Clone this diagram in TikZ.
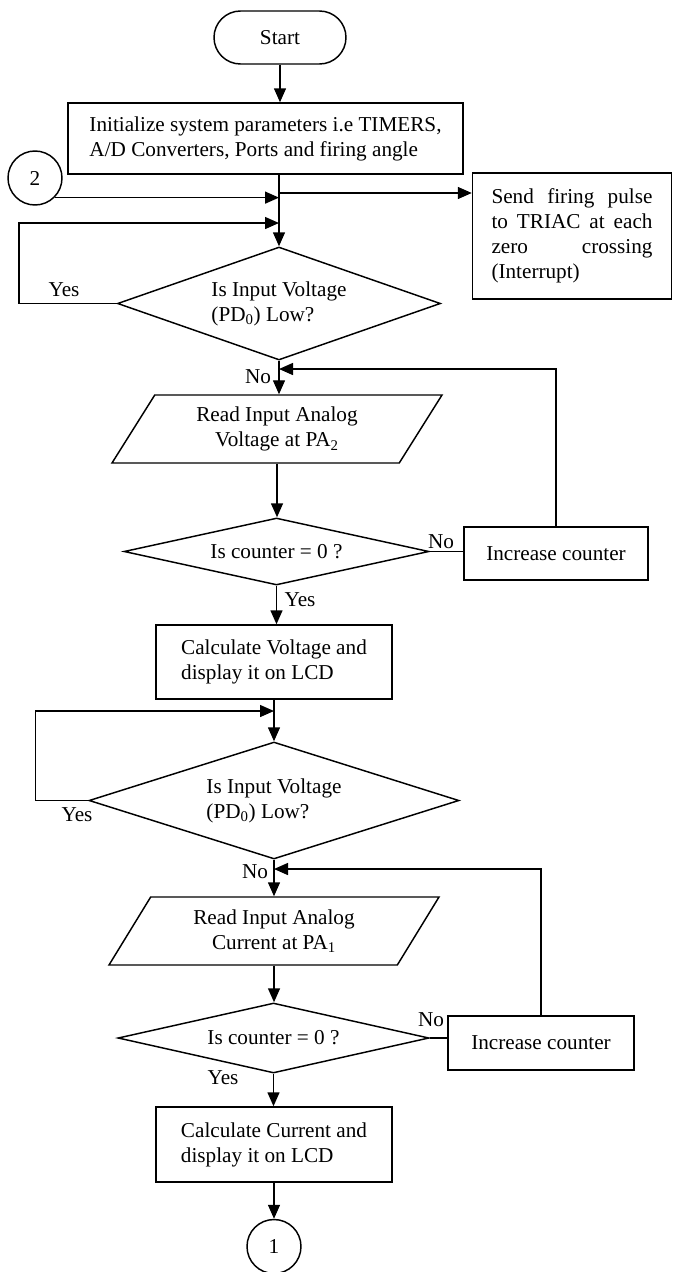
\documentclass[tikz,border=0pt]{standalone}
\usepackage{fontspec}
\setmainfont{Liberation Serif}
\usetikzlibrary{shapes,arrows.meta,positioning,calc}

\begin{document}
\begin{tikzpicture}[x=0.75pt,y=-0.75pt,line width=1.1pt,
    font=\fontsize{15.9}{18.75}\selectfont,
    every node/.style={inner sep=0pt},
    term/.style={draw, rounded rectangle, minimum width=99pt, minimum height=39.75pt},
    proc/.style={draw, rectangle, align=left},
    decide/.style={draw, diamond, aspect=3.5, align=left},
    io/.style={draw, trapezium, trapezium left angle=46, trapezium right angle=134,
      trapezium stretches body, minimum width=247.5pt, minimum height=51pt, align=center},
    conn/.style={draw, circle, minimum size=40.5pt},
    arr/.style={-{Triangle[length=10.5pt,width=9pt]}}]
    \useasboundingbox (0,0) rectangle (672,1272);

    % upper part
    \node[term] (start) at (280,37.5) {Start};
    \node[proc, minimum width=296.25pt, minimum height=53.25pt] (init) at (265.5,138.5)
        {Initialize system parameters i.e TIMERS,\\A/D Converters, Ports and firing angle};
    \node[conn] (c2) at (35,178) {2};
    \node[draw, text width=120.75pt, inner xsep=14.25pt, minimum height=94.5pt, align=justify] (send) at (572,236)
        {Send firing pulse\linebreak to TRIAC at each\linebreak zero crossing\linebreak (Interrupt)};
    \node[decide, minimum width=242.25pt, minimum height=84.75pt] (dec1) at (279,303.5)
        {Is Input Voltage\\(PD\textsubscript{0}) Low?};
    \node[io] (read1) at (277,429) {Read Input Analog\\Voltage at PA\textsubscript{2}};
    \node[decide, minimum width=228.75pt, minimum height=50.25pt] (cnt1) at (276.5,551.5) {Is counter = 0 ?};
    \node[proc, minimum width=138pt, minimum height=39.75pt] (inc1) at (556,553.5) {Increase counter};
    \node[proc, minimum width=177pt, minimum height=55.5pt] (calc1) at (274,662)
        {Calculate Voltage and\\display it on LCD};

    % lower part
    \node[decide, minimum width=277.5pt, minimum height=87.75pt] (dec2) at (274,800.5)
        {Is Input Voltage\\(PD\textsubscript{0}) Low?};
    \node[io] (read2) at (274,931) {Read Input Analog\\Current at PA\textsubscript{1}};
    \node[decide, minimum width=233.25pt, minimum height=52.5pt] (cnt2) at (273.5,1038) {Is counter = 0 ?};
    \node[proc, minimum width=139.5pt, minimum height=40.5pt] (inc2) at (541,1043) {Increase counter};
    \node[proc, minimum width=177pt, minimum height=56.25pt] (calc2) at (274,1144.5)
        {Calculate Current and\\display it on LCD};
    \node[conn] (c1) at (274,1246.5) {1};

    % labels
    \node (yes1) at (64,290) {Yes};
    \node (no1) at (258,377) {No};
    \node (no2) at (441,542) {No};
    \node (yes2) at (300,600) {Yes};
    \node (yes3) at (77,815) {Yes};
    \node (no3) at (255,872) {No};
    \node (no4) at (431,1020) {No};
    \node (yes4) at (223,1078) {Yes};

    % junctions
    \coordinate (j1) at (279,193);
    \coordinate (j3) at (279,223);
    \coordinate (fb1) at (279,369);
    \coordinate (j4) at (274,711);
    \coordinate (fb2) at (274,869);

    \draw[arr] (start.south) -- (start.south |- init.north);
    \draw[arr] (init.south -| dec1.north) -- (dec1.north);
    \draw[arr] (j1) -- (j1 -| send.west);
    \draw[arr] (c2.-45) -- (c2.-45 -| dec1.north);
    \draw[arr] (dec1.west) -- ++(-98,0) |- (j3);
    \draw[arr] (dec1.south) -- (dec1.south |- read1.north);
    \draw[arr] (inc1.north) |- (fb1);
    \draw[arr] (read1.south) -- (read1.south |- cnt1.north);
    \draw (cnt1.east) -- (cnt1.east -| inc1.west);
    \draw[arr] (cnt1.south) -- (cnt1.south |- calc1.north);
    \draw[arr] (calc1.south) -- (calc1.south |- dec2.north);
    \draw[arr] (dec2.west) -- ++(-53,0) |- (j4);
    \draw[arr] (dec2.south) -- (dec2.south |- read2.north);
    \draw[arr] (inc2.north) |- (fb2);
    \draw[arr] (read2.south) -- (read2.south |- cnt2.north);
    \draw (cnt2.east) -- (cnt2.east -| inc2.west);
    \draw[arr] (cnt2.south) -- (cnt2.south |- calc2.north);
    \draw[arr] (calc2.south) -- (c1.north);
\end{tikzpicture}
\end{document}
